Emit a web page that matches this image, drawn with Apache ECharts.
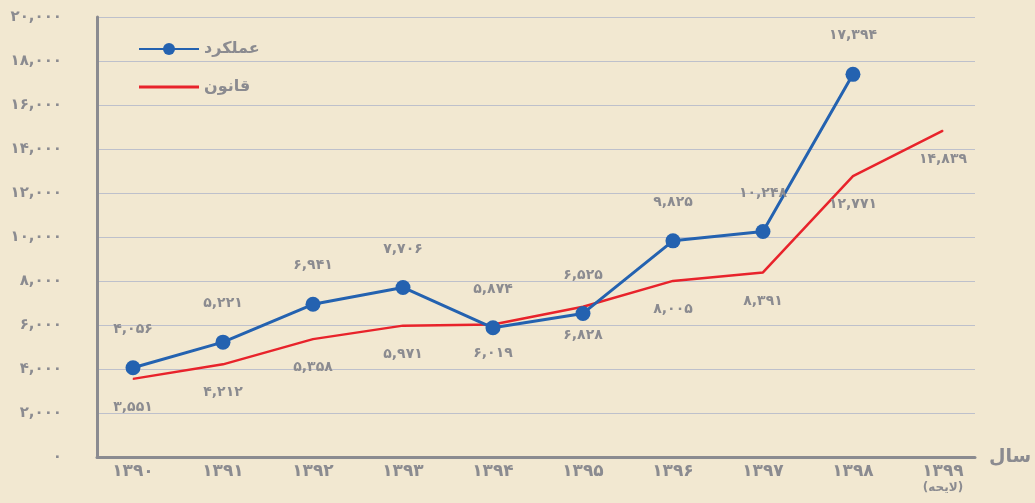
<!DOCTYPE html>
<html>
<head>
<meta charset="utf-8">
<script src="https://cdn.jsdelivr.net/npm/echarts@6/dist/echarts.min.js"></script>
<style>
  html, body { margin: 0; padding: 0; }
  #chart { width: 1035px; height: 503px; }
</style>
</head>
<body>
<div id="chart"></div>
<script>
// سال‌ها
const years = [1390, 1391, 1392, 1393, 1394, 1395, 1396, 1397, 1398, 1399];
// عملکرد (تا ۱۳۹۸)
const actual = [4056, 5221, 6941, 7706, 5874, 6525, 9825, 10248, 17394];
// قانون
const law = [3551, 4212, 5358, 5971, 6019, 6828, 8005, 8391, 12771, 14839];

const gray = '#8b8b90';
const fontFamily = '"DejaVu Sans", sans-serif';

// تبدیل ارقام به فارسی
function fa(n, sep) {
  let s = String(n);
  if (sep) s = s.replace(/\B(?=(\d{3})+(?!\d))/g, ',');
  return s.replace(/\d/g, d => '۰۱۲۳۴۵۶۷۸۹'[d]);
}

const chart = echarts.init(document.getElementById('chart'));

chart.setOption({
  backgroundColor: '#f2e8d1',
  textStyle: { fontFamily: fontFamily },
  legend: {
    orient: 'vertical',
    left: 133,
    top: 36,
    itemWidth: 60,
    itemHeight: 15,
    itemGap: 22,
    textStyle: { color: gray, fontSize: 16, fontWeight: 'bold', fontFamily: fontFamily },
    data: [
      { name: 'عملکرد' },
      { name: 'قانون', icon: 'path://M0,0 H60 V3 H0 Z', itemStyle: { color: '#e8232b', opacity: 1 } }
    ]
  },
  grid: { left: 97, right: 60, top: 17, bottom: 46 },
  xAxis: {
    type: 'value',
    min: 1389.6,
    max: 1399.356,
    name: 'سال',
    nameLocation: 'end',
    nameGap: 14,
    nameTextStyle: { color: gray, fontSize: 19, fontWeight: 'bold', fontFamily: fontFamily, verticalAlign: 'middle' },
    splitLine: { show: false },
    axisTick: { show: false },
    axisLine: { lineStyle: { color: gray, width: 3 } },
    axisLabel: {
      customValues: years,
      margin: 6,
      color: gray,
      fontSize: 17,
      fontWeight: 'bold',
      formatter: v => v === 1399 ? fa(v) + '\n{s|(لایحه)}' : fa(v),
      rich: { s: { fontSize: 12, fontWeight: 'bold', color: gray, lineHeight: 16, fontFamily: fontFamily } }
    }
  },
  yAxis: {
    type: 'value',
    min: 0,
    max: 20000,
    interval: 2000,
    axisLine: { show: true, lineStyle: { color: gray, width: 3 } },
    axisTick: { show: false },
    splitLine: { lineStyle: { color: '#bec0cb', width: 1 } },
    axisLabel: {
      margin: 35,
      color: gray,
      fontSize: 15,
      fontWeight: 'bold',
      formatter: v => fa(v, true)
    }
  },
  series: [
    {
      name: 'قانون',
      type: 'line',
      data: law.map((v, i) => [years[i], v]),
      symbol: 'circle',
      symbolSize: 1,
      showSymbol: true,
      lineStyle: { color: '#e8232b', width: 2.5 },
      itemStyle: { color: '#e8232b' },
      label: {
        show: true,
        position: 'bottom',
        distance: 21,
        color: gray,
        fontSize: 14,
        fontWeight: 'bold',
        formatter: p => fa(p.value[1], true)
      },
      z: 2
    },
    {
      name: 'عملکرد',
      type: 'line',
      data: actual.map((v, i) => [years[i], v]),
      symbol: 'circle',
      symbolSize: 15,
      lineStyle: { color: '#2462b0', width: 3 },
      itemStyle: { color: '#2462b0' },
      label: {
        show: true,
        position: 'top',
        distance: 24,
        color: gray,
        fontSize: 14,
        fontWeight: 'bold',
        formatter: p => fa(p.value[1], true)
      },
      z: 3
    }
  ]
});
</script>
</body>
</html>
